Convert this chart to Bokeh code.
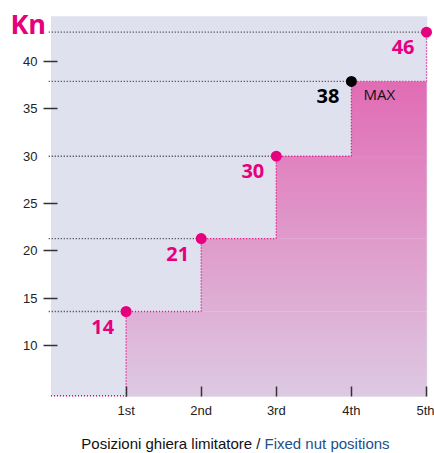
from bokeh.plotting import figure
from bokeh.models import Range1d, FixedTicker, Label
from bokeh.embed import file_html
from bokeh.resources import INLINE
from bokeh.core.properties import value
import numpy as np

# ---- data ----
positions = [1, 2, 3, 4, 5]
position_labels = ["1st", "2nd", "3rd", "4th", "5th"]
kn_plotted = [13.6, 21.3, 30.0, 37.9, 43.1]
kn_labels = ["14", "21", "30", "38", "46"]
max_index = 3
max_text = "MAX"
y_ticks = [10, 15, 20, 25, 30, 35, 40]
unit_text = "Kn"
title_it = "Posizioni ghiera limitatore /"
title_en = "Fixed nut positions"
area_bottom = 4.63
area_top = 44.78
area_left = 0.0
area_right = 5.01

PINK = "#e6007e"
BG = "#dfe1ee"
BLUE = "#1d4f8c"
FONT = "Liberation Sans, Arial, sans-serif"
BOLD_FONT = "Open Sans"

p = figure(width=434, height=453,
           x_range=Range1d(-0.6724, 5.1065), y_range=Range1d(-1.394, 46.441),
           output_backend="svg", toolbar_location=None,
           min_border_left=0, min_border_right=0, min_border_top=0,
           min_border_bottom=0)
p.background_fill_color = "white"
p.border_fill_color = "white"
p.outline_line_color = None
p.grid.visible = False

# lavender plot area
p.quad(left=[area_left], right=[area_right], bottom=[area_bottom], top=[area_top],
       fill_color=BG, line_color=None)

# gradient step fill
levels = kn_plotted[:-1]
top_level = max(levels)
edges = sorted(set([round(v, 4) for v in np.linspace(area_bottom, top_level, 130)] + levels))
c_bot = np.array([0xdd, 0xc9, 0xe2])
c_top = np.array([0xe1, 0x6c, 0xb4])
L, R, B, T, C = [], [], [], [], []
for a, b in zip(edges[:-1], edges[1:]):
    k = next(i for i, lv in enumerate(levels) if lv >= b - 1e-9)
    t = ((a + b) / 2 - area_bottom) / (top_level - area_bottom)
    c = (c_bot + (c_top - c_bot) * t).round().astype(int)
    L.append(positions[k]); R.append(positions[-1])
    B.append(a); T.append(min(b + 0.15, levels[k]))
    C.append("#%02x%02x%02x" % tuple(c))
p.quad(left=L, right=R, bottom=B, top=T, fill_color=C, line_color=None)

# black dotted guide lines
p.segment(x0=[-0.03] * len(positions), y0=kn_plotted, x1=positions, y1=kn_plotted,
          line_color="#333333", line_width=1.4, line_dash="1 2")

# pink dotted step outline
sx0, sy0, sx1, sy1 = [], [], [], []
sx0.append(area_left); sy0.append(area_bottom + 0.07); sx1.append(positions[0]); sy1.append(area_bottom + 0.07)
sx0.append(positions[0]); sy0.append(area_bottom); sx1.append(positions[0]); sy1.append(kn_plotted[0])
for i in range(len(positions) - 1):
    sx0.append(positions[i]); sy0.append(kn_plotted[i]); sx1.append(positions[i + 1]); sy1.append(kn_plotted[i])
    sx0.append(positions[i + 1]); sy0.append(kn_plotted[i]); sx1.append(positions[i + 1]); sy1.append(kn_plotted[i + 1])
p.segment(x0=sx0, y0=sy0, x1=sx1, y1=sy1, line_color=PINK, line_width=1.4, line_dash="1 2")

colors = ["black" if i == max_index else PINK for i in range(len(positions))]
p.scatter(positions, kn_plotted, size=11, fill_color=colors, line_color=None)

p.text(positions, kn_plotted, text=kn_labels, x_offset=-12, y_offset=15,
       text_align="right", text_baseline="middle", text_color=colors,
       text_font=value(BOLD_FONT), text_font_style="bold", text_font_size="20px")
p.text([positions[max_index]], [kn_plotted[max_index]], text=[max_text], x_offset=12, y_offset=13,
       text_align="left", text_baseline="middle", text_color="#111111",
       text_font=value(BOLD_FONT), text_font_size="15px")

# axes, fixed at the edges of the lavender area
p.yaxis.fixed_location = -0.0466
p.yaxis.ticker = FixedTicker(ticks=[t for t in y_ticks if t != 30])
p.yaxis.axis_line_color = None
p.yaxis.major_tick_in = 10
p.yaxis.major_tick_out = 4
p.yaxis.major_tick_line_color = "#333333"
p.yaxis.major_tick_line_width = 1.5
p.yaxis.minor_tick_line_color = None
p.yaxis.major_label_standoff = 6
p.yaxis.major_label_text_font = FONT
p.yaxis.major_label_text_font_size = "13px"
p.yaxis.major_label_text_color = "#222222"

p.xaxis.fixed_location = area_bottom
p.xaxis.ticker = FixedTicker(ticks=positions)
p.xaxis.major_label_overrides = {pos: lab for pos, lab in zip(positions, position_labels)}
p.xaxis.axis_line_color = None
p.xaxis.major_tick_in = 10
p.xaxis.major_tick_out = 0
p.xaxis.major_tick_line_color = "#333333"
p.xaxis.major_tick_line_width = 1.5
p.xaxis.minor_tick_line_color = None
p.xaxis.major_label_standoff = 7
p.xaxis.major_label_text_font = FONT
p.xaxis.major_label_text_font_size = "13px"
p.xaxis.major_label_text_color = "#222222"

p.add_layout(Label(x=-0.18, y=30, text="30", text_align="right", text_baseline="middle",
                   text_font=FONT, text_font_size="13px", text_color="#222222"))
p.add_layout(Label(x=-0.54, y=43.96, text=unit_text, text_align="left", text_baseline="middle",
                   text_font=BOLD_FONT, text_font_style="bold", text_font_size="27px",
                   text_color=PINK))
p.add_layout(Label(x=2.79, y=-0.38, text=title_it, text_align="right", text_baseline="alphabetic",
                   text_font=FONT, text_font_size="15px", text_color="#111111"))
p.add_layout(Label(x=2.843, y=-0.38, text=title_en, text_align="left", text_baseline="alphabetic",
                   text_font=FONT, text_font_size="15px", text_color=BLUE))

open("out.html", "w").write(file_html(p, INLINE))
